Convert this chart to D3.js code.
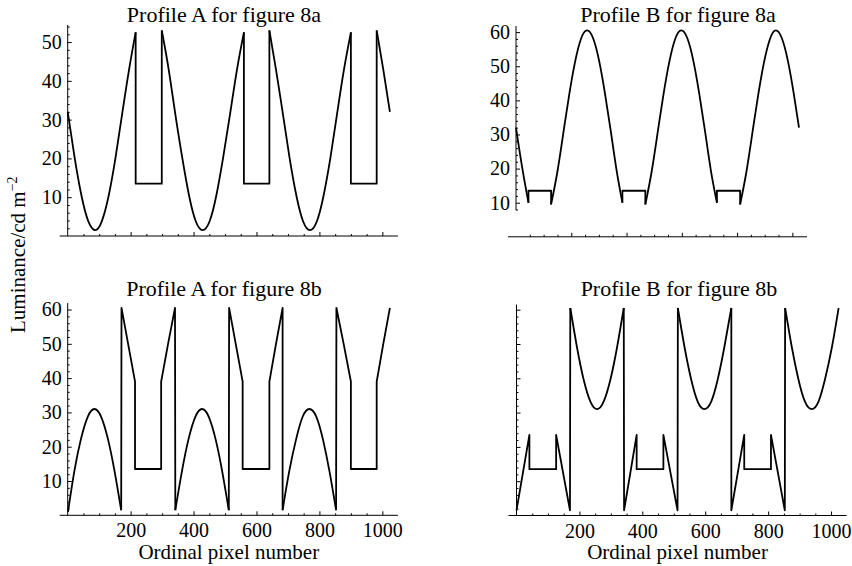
<!DOCTYPE html>
<html>
<head>
<meta charset="utf-8">
<script src="https://cdnjs.cloudflare.com/ajax/libs/d3/7.8.5/d3.min.js"></script>
<style>
body { margin: 0; background: #fff; }
svg { display: block; background: #fff; }
.ttl, .lbl { font-family: "Liberation Serif", "Times New Roman", serif; font-size: 21px; fill: #000; }
.ttl { font-size: 22px; }
.ax text { font-family: "Liberation Serif", "Times New Roman", serif; font-size: 20px; fill: #000; }
.ax line { stroke: #000; stroke-width: 1; }
.axline { stroke: #000; stroke-width: 1.3; }
.curve { fill: none; stroke: #000; stroke-width: 1.8; stroke-linejoin: round; }
</style>
</head>
<body>
<div id="graf"></div>
<script>
// pixel number vs luminance
const arcsA8a = [
  [[0,32],[22,20.2],[44,10.3],[65,3.9],[87,1.5],[108,3.7],[130,10.3],[152,20.2],[173,31.4],[195,42.9],[216,52.5]],
  [[299,53],[321,42.9],[342,31.4],[364,20.2],[386,10.3],[407,3.8],[429,1.5],[451,3.8],[472,10.3],[494,20.2],[516,31.4],[538,42.9],[560,52.5]],
  [[641,53],[662,42.9],[684,31.4],[705,20.2],[727,10.3],[748,3.8],[770,1.5],[792,3.8],[813,10.3],[835,20.2],[856,31.4],[878,42.9],[900,52.5]],
  [[982,53],[1003,42.9],[1024,32]]
]
const stepsA8a = [
  [[216,52.5],[216,13.5],[299,13.5],[299,53]],
  [[560,52.5],[560,13.5],[641,13.5],[641,53]],
  [[900,52.5],[900,13.5],[982,13.5],[982,53]]
]

const arcsB8a = [
  [[0,32],[22,20.5],[45,10]],
  [[127,9.5],[149,18.7],[170,29.7],[192,41.4],[213,51],[235,58],[257,60.5],[279,58.2],[301,51.5],[322,42],[343,31],[364,19.5],[385,10]],
  [[468,9.5],[490,18.7],[511,29.7],[533,41.4],[554,51],[576,58],[598,60.5],[620,58.2],[642,51.5],[663,42],[684,31],[705,19.5],[727,10]],
  [[811,9.5],[833,18.7],[854,29.7],[876,41.4],[897,51],[919,58],[940,60.5],[962,58.2],[984,51.5],[1005,42],[1024,32]]
]
const stepsB8a = [
  [[45,10],[45,13.5],[127,13.5],[127,9.5]],
  [[385,10],[385,13.5],[468,13.5],[468,9.5]],
  [[727,10],[727,13.5],[811,13.5],[811,9.5]]
]

const arcsA8b = [
  [[1,1],[21,12.8],[42,22.2],[64,28.8],[85,31],[106,28.8],[128,22.2],[149,12.8],[170,1.5]],
  [[342,1.5],[363,12.8],[384,22.2],[406,28.8],[427,31],[448,28.8],[470,22.2],[491,12.8],[512,1.5]],
  [[683,1.5],[704,12.8],[726,22.2],[747,28.8],[768,31],[790,28.8],[811,22.2],[832,12.8],[853,1.5]]
]
const stepsA8b = [
  [[170,1.5],[171,60.5],[192,50],[214,39],[214,13.5],[297,13.5],[297,39],[319,50],[341,60.5],[342,1.5]],
  [[512,1.5],[513,60.5],[534,50],[556,39],[556,13.5],[641,13.5],[641,39],[662,50],[683,60.5],[683,1.5]],
  [[853,1.5],[854,60.5],[877,50],[900,39],[900,13.5],[982,13.5],[982,39],[1003,50],[1024,60.5]]
]

const arcsB8b = [
  [[171,60.5],[192,49.2],[213,39.8],[235,33.2],[256,31],[277,33.2],[299,39.8],[320,49.2],[341,60.5]],
  [[513,60.5],[534,49.2],[555,39.8],[576,33.2],[597,31],[619,33.2],[640,39.8],[661,49.2],[683,60.5]],
  [[854,60.5],[875,49.2],[896,39.8],[917,33.2],[939,31],[960,33.2],[981,39.8],[1003,49.2],[1024,60.5]]
]
const stepsB8b = [
  [[0,1.5],[41,23.5],[41,13.5],[126,13.5],[126,23.5],[170,1.5],[171,60.5]],
  [[341,60.5],[342,1.5],[382,23.5],[382,13.5],[467,13.5],[467,23.5],[512,1.5],[513,60.5]],
  [[683,60.5],[683,1.5],[724,23.5],[724,13.5],[809,13.5],[809,23.5],[853,1.5],[854,60.5]]
]

const titles = ["Profile A for figure 8a", "Profile B for figure 8a", "Profile A for figure 8b", "Profile B for figure 8b"]
const xTicks = [200, 400, 600, 800, 1000]
const yTicks50 = [10, 20, 30, 40, 50]
const yTicks60 = [10, 20, 30, 40, 50, 60]

const panels = [
  { title: titles[0], arcs: arcsA8a, steps: stepsA8a, xr: [67.7, 389.9], yr: [236, 25], yd: [0, 54.4], yAxis: [0, 54.4], yTicks: yTicks50, showX: false, showY: true, tx: 224, ty: 22 },
  { title: titles[1], arcs: arcsB8a, steps: stepsB8a, xr: [516, 799], yr: [236.8, 26], yd: [0, 61.8], yAxis: [7.8, 61.8], yTicks: yTicks60, showX: false, showY: true, tx: 678, ty: 22 },
  { title: titles[2], arcs: arcsA8b, steps: stepsA8b, xr: [67.7, 389.9], yr: [515.3, 303], yd: [0, 61.9], yAxis: [0, 61.9], yTicks: yTicks60, showX: true, showY: true, tx: 224, ty: 296 },
  { title: titles[3], arcs: arcsB8b, steps: stepsB8b, xr: [516.5, 838.6], yr: [515.5, 303.2], yd: [0, 61.9], yAxis: [0, 61.5], yTicks: yTicks60, showX: true, showY: false, tx: 679, ty: 296 }
]

const svg = d3.select("#graf")
  .append("svg")
  .attr("width", 852)
  .attr("height", 566)

panels.forEach((p) => {
  const x = d3.scaleLinear().domain([0, 1024]).range(p.xr)
  const y = d3.scaleLinear().domain(p.yd).range(p.yr)
  const g = svg.append("g")

  // x axis
  const gx = g.append("g")
    .attr("class", "ax")
    .attr("transform", `translate(0, ${y(0)})`)
  gx.call(d3.axisBottom(x).tickValues(xTicks).tickSize(-4).tickPadding(8)
    .tickFormat((d) => (p.showX ? d : "")))
  gx.append("g").call(d3.axisBottom(x)
    .tickValues(d3.range(50, 1050, 50).filter((d) => d % 200 !== 0))
    .tickSize(-2).tickFormat(""))
  gx.selectAll(".domain").remove()
  gx.attr("font-size", null).attr("font-family", null)
  gx.append("line")
    .attr("class", "axline")
    .attr("x1", p.xr[0] - 8)
    .attr("x2", p.xr[1] + 8)

  // y axis
  const gy = g.append("g")
    .attr("class", "ax")
    .attr("transform", `translate(${x(0)}, 0)`)
  gy.call(d3.axisLeft(y).tickValues(p.yTicks).tickSize(-4).tickPadding(6)
    .tickFormat((d) => (p.showY ? d : "")))
  gy.append("g").call(d3.axisLeft(y)
    .tickValues(d3.range(2, 62, 2).filter((d) => d % 10 !== 0 && d >= p.yAxis[0] && d <= p.yAxis[1]))
    .tickSize(-2).tickFormat(""))
  gy.selectAll(".domain").remove()
  gy.attr("font-size", null).attr("font-family", null)
  gy.append("line")
    .attr("class", "axline")
    .attr("y1", y(p.yAxis[0]))
    .attr("y2", y(p.yAxis[1]))

  const smooth = d3.line().x((d) => x(d[0])).y((d) => y(d[1])).curve(d3.curveNatural)
  const straight = d3.line().x((d) => x(d[0])).y((d) => y(d[1]))

  g.selectAll(".arc").data(p.arcs).enter()
    .append("path").attr("class", "curve").attr("d", smooth)
  g.selectAll(".step").data(p.steps).enter()
    .append("path").attr("class", "curve").attr("d", straight)

  g.append("text")
    .attr("class", "ttl")
    .attr("x", p.tx)
    .attr("y", p.ty)
    .attr("text-anchor", "middle")
    .text(p.title)

  if (p.showX) {
    g.append("text")
      .attr("class", "lbl")
      .attr("x", (p.xr[0] + p.xr[1]) / 2)
      .attr("y", 559)
      .attr("text-anchor", "middle")
      .text("Ordinal pixel number")
  }
})

const yl = svg.append("text")
  .attr("class", "lbl")
  .attr("transform", "translate(25, 333) rotate(-90)")
yl.append("tspan").text("Luminance/cd m")
yl.append("tspan").attr("dy", "-0.55em").attr("font-size", "14px").text("\u22122")
</script>
</body>
</html>
